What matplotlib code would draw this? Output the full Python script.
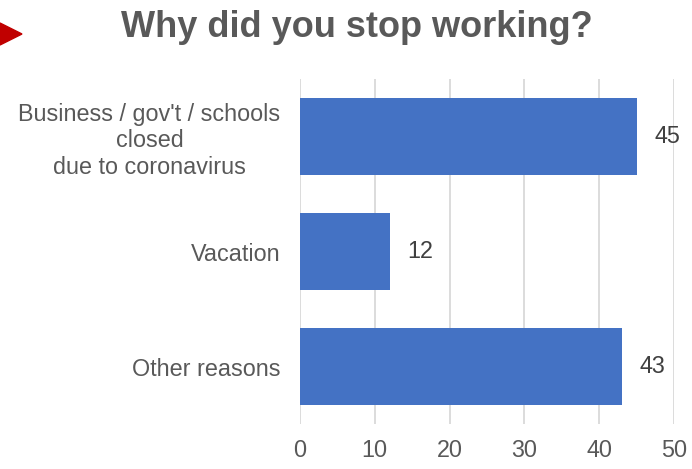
import numpy as np
import matplotlib
matplotlib.use('Agg')
import matplotlib.pyplot as plt
from matplotlib.patches import Polygon

categories = ["Business / gov't / schools\nclosed\ndue to coronavirus", "Vacation", "Other reasons"]
values = [45, 12, 43]
xticks = [0, 10, 20, 30, 40, 50]

plt.rcParams['font.family'] = ['Liberation Sans', 'DejaVu Sans']

fig = plt.figure(figsize=(6.92, 4.69), dpi=100)
ax = fig.add_axes([300/692, 1-424/469, (674-300)/692, (424-79)/469])

y = np.arange(len(categories))
ax.barh(y, values, height=0.67, color='#4472C4')
ax.set_ylim(len(categories)-0.5, -0.5)
ax.set_xlim(0, 50)
ax.set_xticks(xticks)
ax.set_yticks(y)
ax.set_yticklabels(categories, fontsize=16.8, color='#595959', linespacing=1.2,
                   multialignment='center')
ax.tick_params(axis='x', labelsize=16.8, labelcolor='#595959', length=0, pad=11)
ax.tick_params(axis='y', length=0, pad=14)
ax.xaxis.grid(True, color='#d9d9d9', linewidth=1.3)
ax.set_axisbelow(True)
for s in ax.spines.values():
    s.set_visible(False)

for yi, v in zip(y, values):
    ax.text(v + 2.4, yi, str(v), va='center', ha='left', fontsize=16.8, color='#404040')

fig.text(357/692, 1-37/469, "Why did you stop working?", ha='center', va='baseline',
         fontsize=26, fontweight='bold', color='#595959')

tri = Polygon([[0, 1-23/469], [22/692, 1-34/469], [0, 1-45/469]], closed=True,
              transform=fig.transFigure, color='#C00000')
fig.patches.append(tri)

fig.savefig('out.png', dpi=100)
